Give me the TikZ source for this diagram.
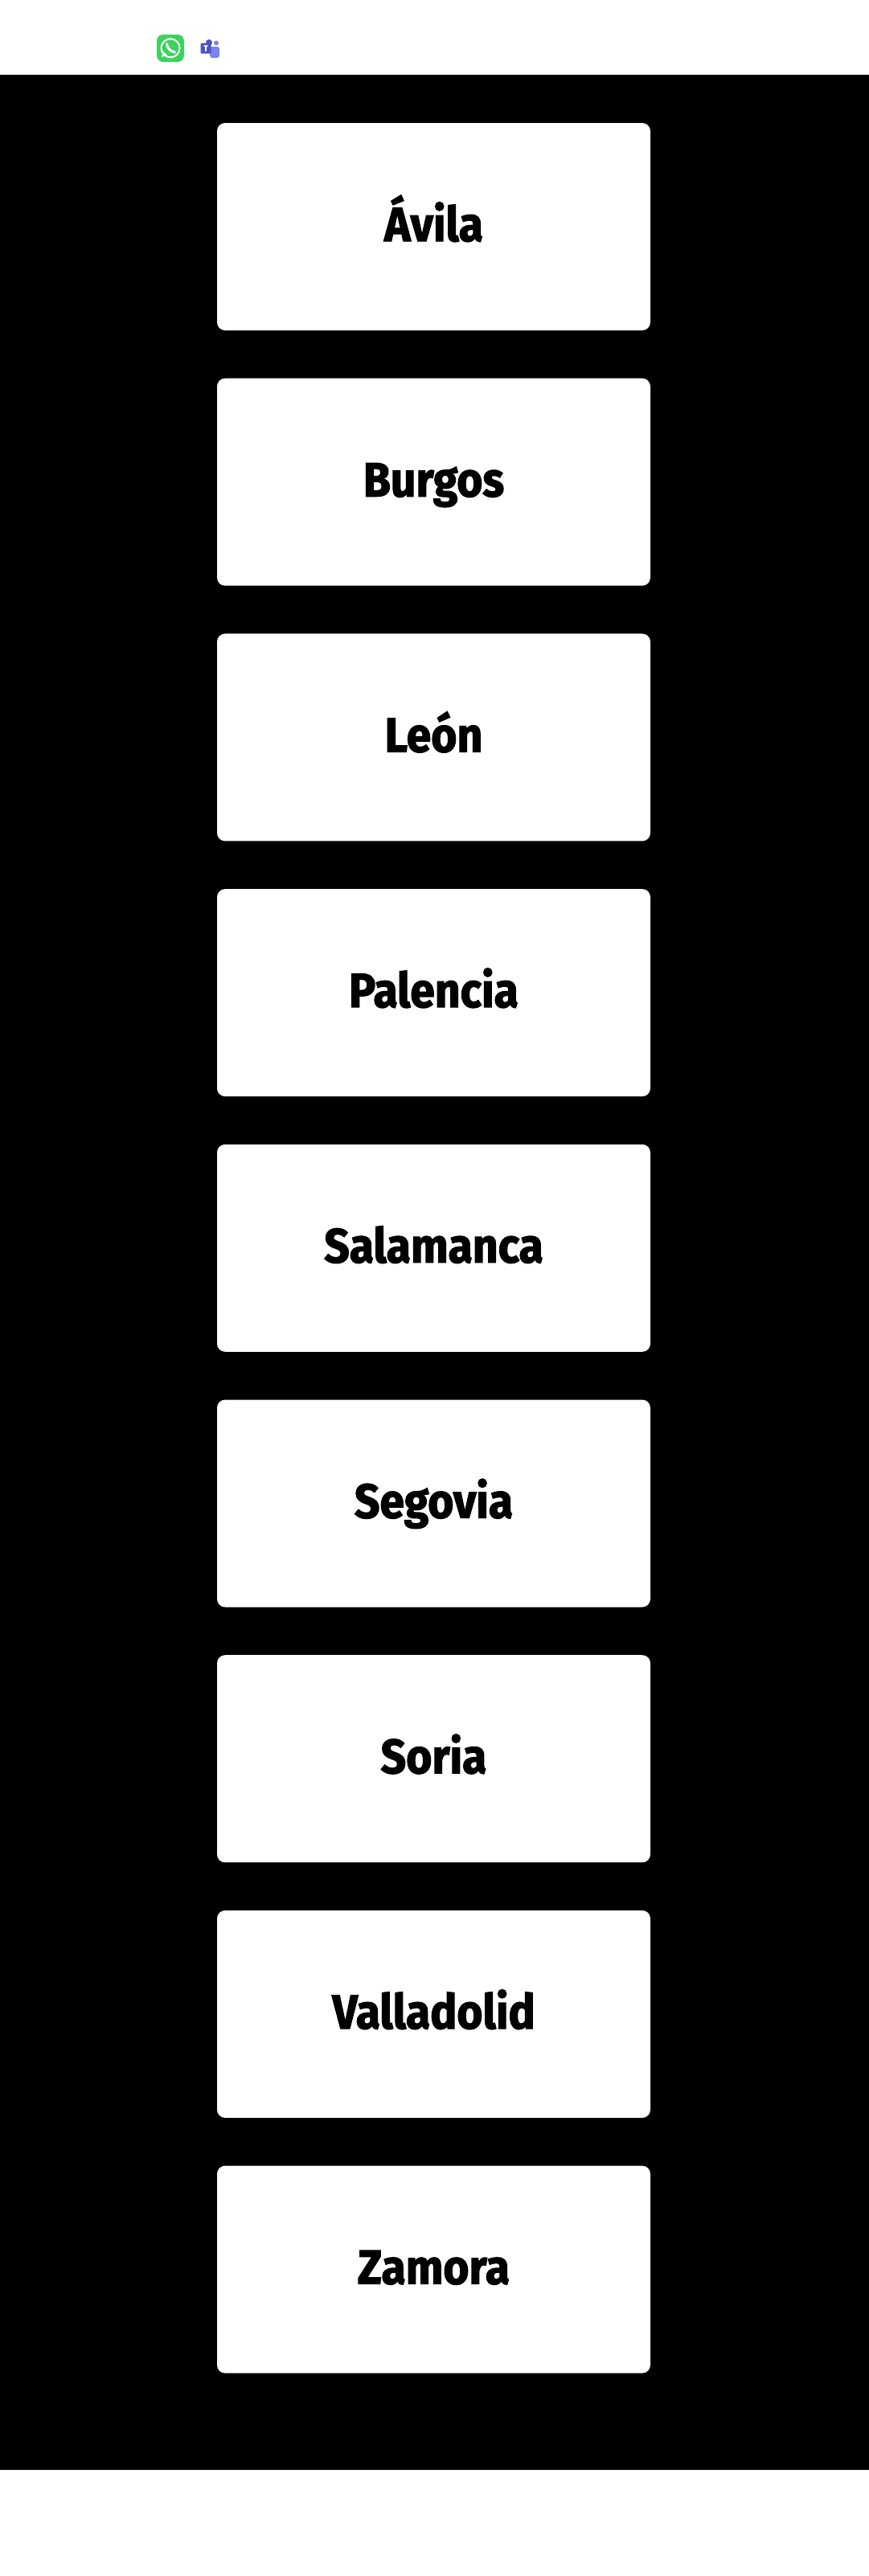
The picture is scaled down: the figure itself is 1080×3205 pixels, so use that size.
\documentclass[tikz,border=0pt]{standalone}
\usepackage{fontspec}
\setmainfont{Fira Sans}[BoldFeatures={FakeBold=2,FakeStretch=0.92}]
\usepackage{xcolor}
\usetikzlibrary{positioning}
\definecolor{wagreen}{HTML}{3DD15E}
\definecolor{teamsdark}{HTML}{4B53BC}
\definecolor{teamslight}{HTML}{7B83EB}
\tikzstyle{card} = [rectangle, fill=white, rounded corners=10pt, minimum width=539pt, minimum height=258pt, inner sep=0pt, outer sep=0pt, text height=36pt, text depth=0pt, font=\fontsize{60}{60}\selectfont\bfseries]
\tikzstyle{band} = [rectangle, fill=black, minimum width=1082pt, anchor=north west, inner sep=0pt, outer sep=0pt]

\begin{document}
\begin{tikzpicture}[x=1pt, y=-1pt, node distance=59.7pt]
    \useasboundingbox (0,0) rectangle (1080,3205);
    \fill[white] (0,0) rectangle (1080,3205);

    % Black page band
    \node[band, minimum height=2980pt] (page) at (0,93) {};

    % Cards - one column
    \node[card] (avila) at (539.5,282) {Ávila};
    \node[card, below=of avila] (burgos) {Burgos};
    \node[card, below=of burgos] (leon) {León};
    \node[card, below=of leon] (palencia) {Palencia};
    \node[card, below=of palencia] (salamanca) {Salamanca};
    \node[card, below=of salamanca] (segovia) {Segovia};
    \node[card, below=of segovia] (soria) {Soria};
    \node[card, below=of soria] (valladolid) {Valladolid};
    \node[card, below=of valladolid] (zamora) {Zamora};

    % WhatsApp icon
    \node[fill=wagreen, rounded corners=8pt, minimum size=34pt, inner sep=0pt] (whatsapp) at (212,60) {};
    \draw[white, line width=2pt] (whatsapp.center) ++(-8.5,7.5) arc[start angle=222, end angle=-130, radius=11.5pt];
    \fill[white] (201,71) -- (203,63.5) -- (208,68.5) -- cycle;
    \draw[white, line width=3pt, line cap=round] (207.5,54.5) .. controls (208,60) and (212,64) .. (217.5,65);

    % Teams icon
    \node[fill=teamslight, rounded corners=3pt, minimum width=12pt, minimum height=14pt, inner sep=0pt] (teamsback) at (267,65) {};
    \node[circle, fill=teamslight, minimum size=6pt, inner sep=0pt] (teamshead) at (269,53.5) {};
    \node[circle, fill=teamsdark, minimum size=8pt, inner sep=0pt] (teamsdot) at (260,53) {};
    \node[fill=teamsdark, rounded corners=1pt, minimum size=13pt, inner sep=0pt, text=white, font=\fontsize{10}{10}\selectfont\bfseries] (teamsbox) at (256,60) {T};
\end{tikzpicture}
\end{document}
